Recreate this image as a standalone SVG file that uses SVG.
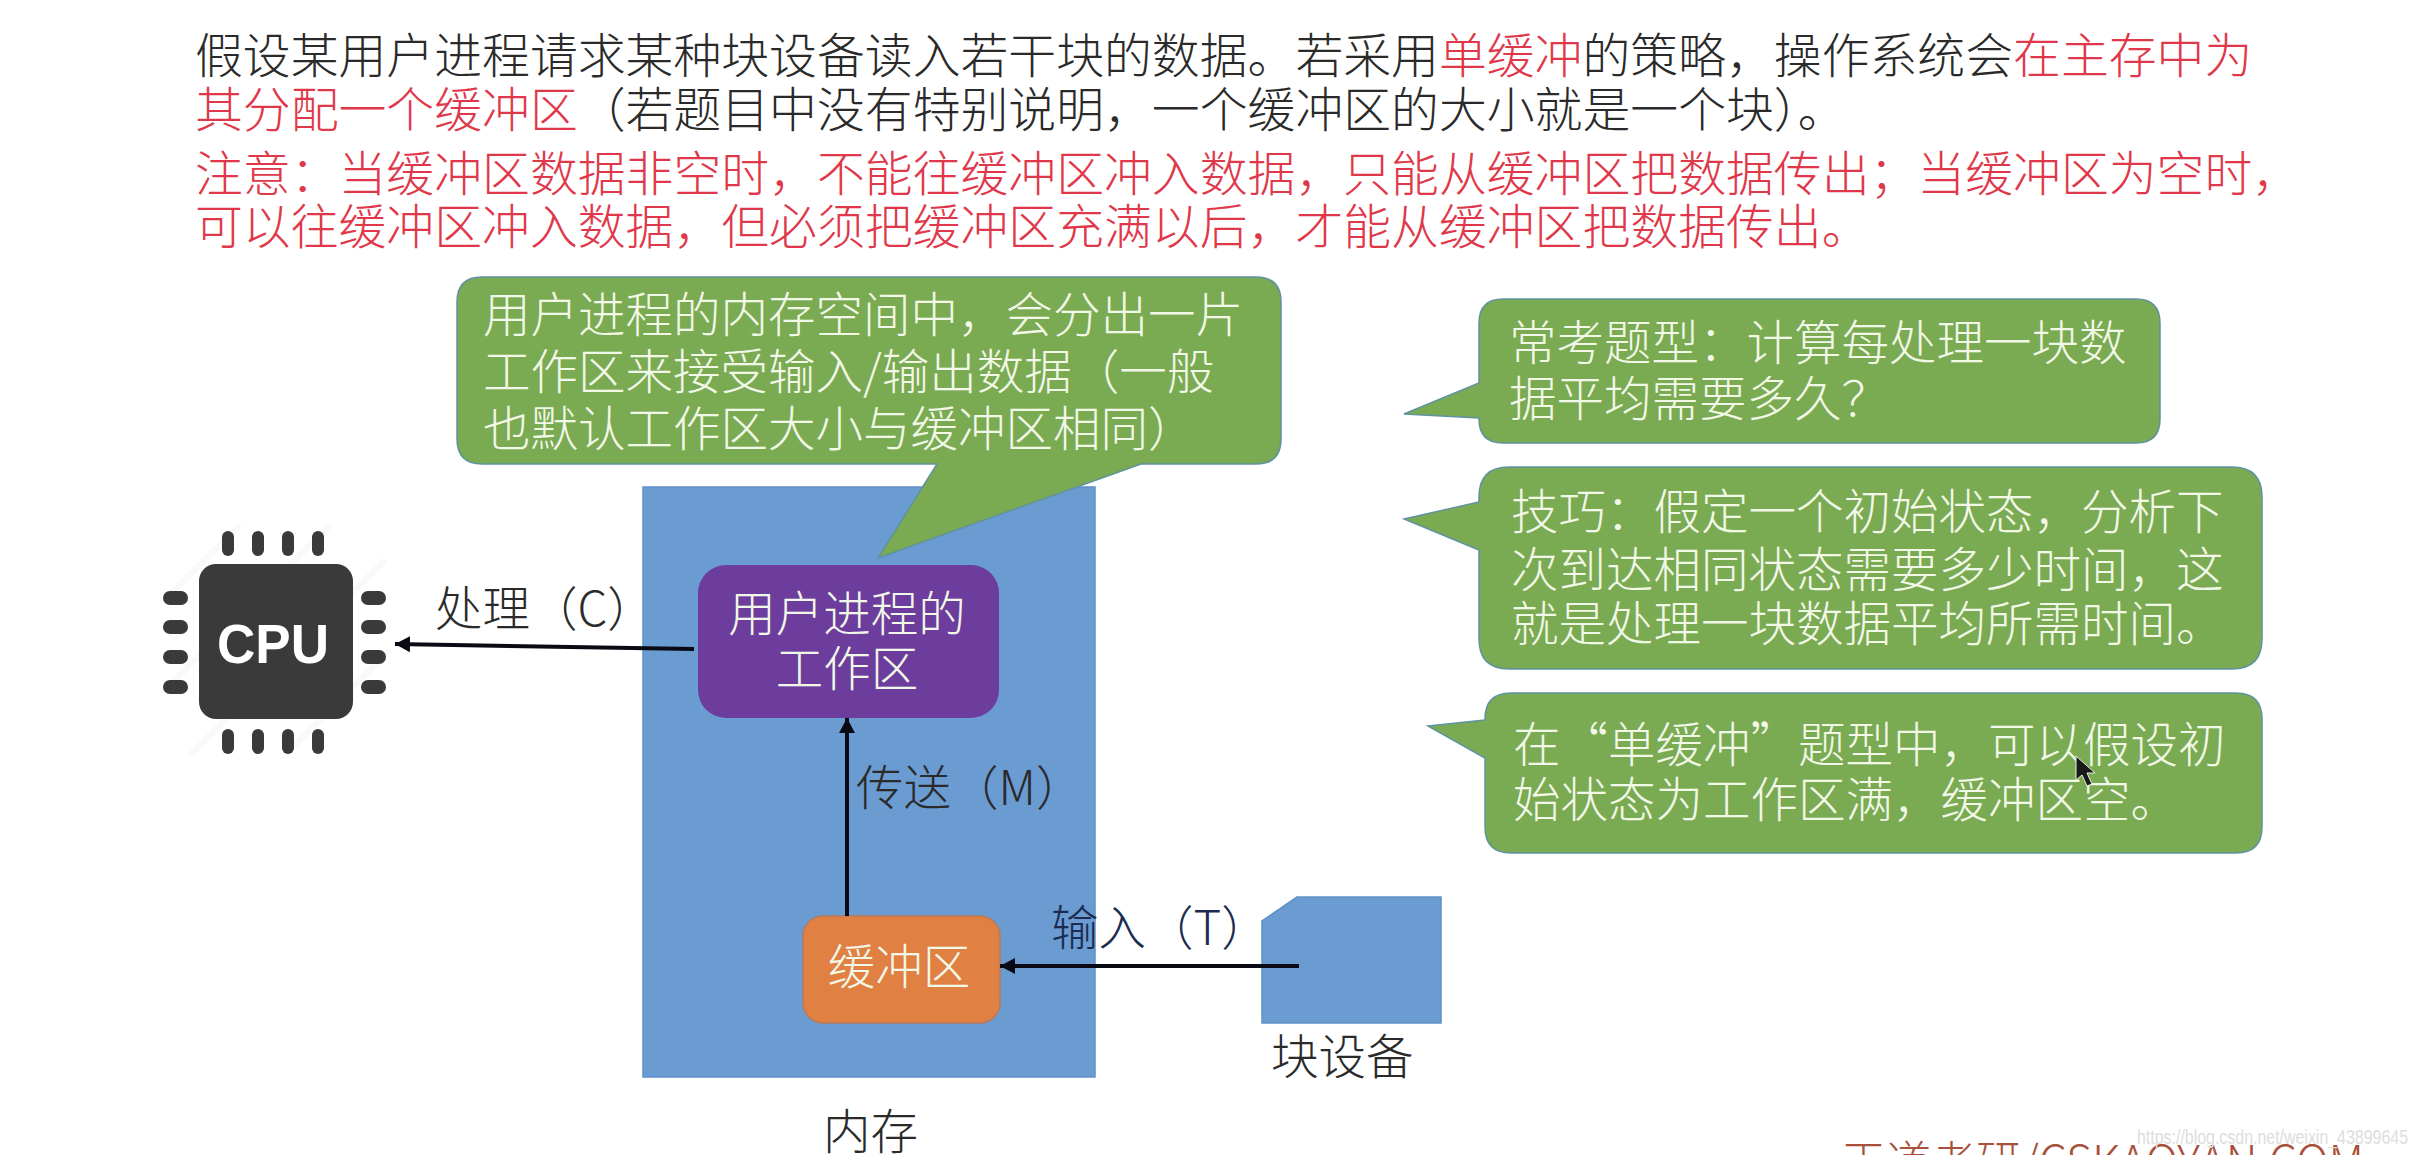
<svg xmlns="http://www.w3.org/2000/svg" width="2418" height="1155" viewBox="0 0 2418 1155" lang="zh-CN">
<style>
text{font-family:"Noto Sans CJK SC","Noto Sans CJK TC",sans-serif;font-size:47.5px;font-weight:300}
#heading text{font-size:47.85px}
.dark{fill:#2a2a2a}
.red{fill:#e0384a}
.lt{fill:#f2f8e8}
.ctr{text-anchor:middle}
.green{fill:#7aaa52;stroke:#5f93a0;stroke-width:1.5}
.blue{fill:#6a9bd1;stroke:#5f90c8;stroke-width:1.5}
.pin{fill:#3a3a3a}
.conn{stroke:#0a0a14;stroke-width:4;fill:none;marker-end:url(#head)}
.hatch{stroke:#f9f9f9;stroke-width:6;fill:none}
</style>
<defs>
<marker id="head" markerUnits="userSpaceOnUse" markerWidth="18" markerHeight="18" refX="15" refY="8" orient="auto"><path d="M0,0 L15,8 L0,16 Z" fill="#0a0a14"/></marker>
</defs>
<rect width="2418" height="1155" fill="#fff"/>

<g id="heading">
<text class="dark" x="195" y="73">假设某用户进程请求某种块设备读入若干块的数据。若采用<tspan class="red">单缓冲</tspan>的策略，操作系统会<tspan class="red">在主存中为</tspan></text>
<text class="dark" x="195" y="127"><tspan class="red">其分配一个缓冲区</tspan>（若题目中没有特别说明，一个缓冲区的大小就是一个块）。</text>
<text class="red" x="195" y="191">注意：当缓冲区数据非空时，不能往缓冲区冲入数据，只能从缓冲区把数据传出；当缓冲区为空时，</text>
<text class="red" x="195" y="244">可以往缓冲区冲入数据，但必须把缓冲区充满以后，才能从缓冲区把数据传出。</text>
</g>

<g id="cpu">
<path class="hatch" d="M165,600 L240,525 M165,690 L330,525 M190,755 L385,560 M285,755 L390,650"/>
<rect class="pin" x="199" y="564" width="154" height="155" rx="17"/>
<rect class="pin" x="222" y="531" width="12" height="25" rx="6"/><rect class="pin" x="252" y="531" width="12" height="25" rx="6"/><rect class="pin" x="282" y="531" width="12" height="25" rx="6"/><rect class="pin" x="312" y="531" width="12" height="25" rx="6"/>
<rect class="pin" x="222" y="729" width="12" height="25" rx="6"/><rect class="pin" x="252" y="729" width="12" height="25" rx="6"/><rect class="pin" x="282" y="729" width="12" height="25" rx="6"/><rect class="pin" x="312" y="729" width="12" height="25" rx="6"/>
<rect class="pin" x="163" y="591" width="25" height="14" rx="7"/><rect class="pin" x="163" y="620" width="25" height="14" rx="7"/><rect class="pin" x="163" y="650" width="25" height="14" rx="7"/><rect class="pin" x="163" y="680" width="25" height="14" rx="7"/>
<rect class="pin" x="361" y="591" width="25" height="14" rx="7"/><rect class="pin" x="361" y="620" width="25" height="14" rx="7"/><rect class="pin" x="361" y="650" width="25" height="14" rx="7"/><rect class="pin" x="361" y="680" width="25" height="14" rx="7"/>
<text x="217" y="663" textLength="112" lengthAdjust="spacingAndGlyphs" style="font-family:'Liberation Sans',sans-serif;font-weight:700;font-size:56px" fill="#fff">CPU</text>
</g>

<g id="memory">
<rect class="blue" x="643" y="487" width="452" height="590"/>
<text class="dark" x="823" y="1149">内存</text>
</g>

<g id="workarea">
<rect x="698" y="565" width="301" height="153" rx="28" fill="#6d3d9e"/>
<text class="lt ctr" x="847" y="631">用户进程的</text>
<text class="lt ctr" x="847" y="686">工作区</text>
</g>

<g id="buffer">
<rect x="803" y="916" width="197" height="107" rx="20" fill="#e08043" stroke="#b87a5a" stroke-width="1.5"/>
<text class="lt ctr" x="899" y="984">缓冲区</text>
</g>

<g id="device">
<path class="blue" d="M1297,897 H1441 V1023 H1262 V921 Z"/>
<text class="dark" x="1271" y="1074">块设备</text>
</g>

<g id="callout-workarea">
<path class="green" d="M482,277 H1256 Q1281,277 1281,302 V439 Q1281,464 1256,464 H1141 L878,558 L937,464 H482 Q457,464 457,439 V302 Q457,277 482,277 Z"/>
<text class="lt" x="483" y="332">用户进程的内存空间中，会分出一片</text>
<text class="lt" x="483" y="389">工作区来接受输入/输出数据（一般</text>
<text class="lt" x="483" y="446">也默认工作区大小与缓冲区相同）</text>
</g>

<g id="callout-question">
<path class="green" d="M1503,299 H2136 Q2160,299 2160,323 V419 Q2160,443 2136,443 H1503 Q1479,443 1479,419 V418 L1404,414 L1479,383 V323 Q1479,299 1503,299 Z"/>
<text class="lt" x="1509" y="360">常考题型：计算每处理一块数</text>
<text class="lt" x="1509" y="416">据平均需要多久？</text>
</g>

<g id="callout-tip">
<path class="green" d="M1509,467 H2232 Q2262,467 2262,497 V639 Q2262,669 2232,669 H1509 Q1479,669 1479,639 V550 L1404,519 L1479,502 V497 Q1479,467 1509,467 Z"/>
<text class="lt" x="1511" y="529">技巧：假定一个初始状态，分析下</text>
<text class="lt" x="1511" y="587">次到达相同状态需要多少时间，这</text>
<text class="lt" x="1511" y="641">就是处理一块数据平均所需时间。</text>
</g>

<g id="callout-assume">
<path class="green" d="M1511,693 H2236 Q2262,693 2262,719 V827 Q2262,853 2236,853 H1511 Q1485,853 1485,827 V758 L1428,726 L1485,720 V719 Q1485,693 1511,693 Z"/>
<text class="lt" x="1513" y="762">在“单缓冲”题型中，可以假设初</text>
<text class="lt" x="1513" y="817">始状态为工作区满，缓冲区空。</text>
</g>

<g id="connectors">
<path class="conn" d="M694,649 L395,644"/>
<path class="conn" d="M847,916 V718"/>
<path class="conn" d="M1299,966 H1000"/>
</g>

<g id="connector-labels">
<text class="dark" x="435" y="626">处理（C）</text>
<text class="dark" x="856" y="805">传送（M）</text>
<text x="1051" y="945" fill="#1c2c50">输入（T）</text>
</g>

<path id="cursor" d="M2076,756 V780 L2082,775 L2087,786 L2092,784 L2087,773 L2095,773 Z" fill="#1a1a1a" stroke="#e8f0e0" stroke-width="1"/>

<g id="footer">
<text x="1841" y="1179" textLength="523" lengthAdjust="spacingAndGlyphs" style="font-family:'Noto Sans CJK SC','Liberation Sans',sans-serif;font-size:46px" fill="#a8503a">王道考研/CSKAOYAN.COM</text>
<text x="2137" y="1144" textLength="271" lengthAdjust="spacingAndGlyphs" style="font-family:'Liberation Sans',sans-serif;font-size:20px" fill="#dddddd">https://blog.csdn.net/weixin_43899645</text>
</g>
</svg>
